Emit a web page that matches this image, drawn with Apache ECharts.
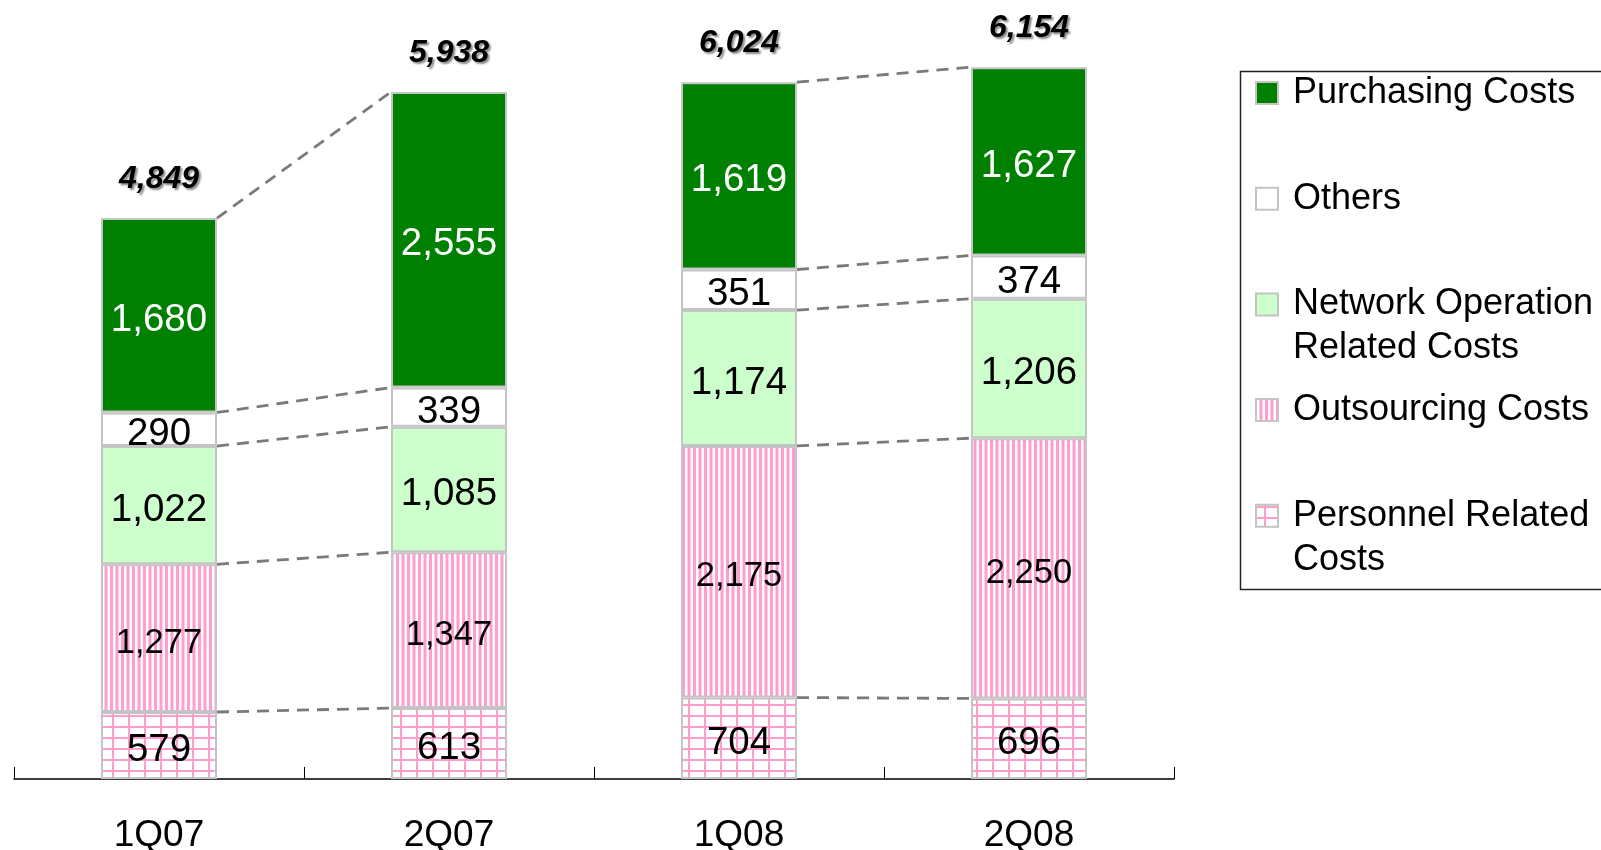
<!DOCTYPE html>
<html>
<head>
<meta charset="utf-8">
<script src="https://cdn.jsdelivr.net/npm/echarts@6/dist/echarts.min.js"></script>
<style>
  html, body { margin: 0; padding: 0; background: #fff; }
  #chart { width: 1601px; height: 850px; }
</style>
</head>
<body>
<div id="chart"></div>
<script>
var quarters = ['1Q07', '2Q07', '1Q08', '2Q08'];
var personnel = [579, 613, 704, 696];
var outsourcing = [1277, 1347, 2175, 2250];
var network = [1022, 1085, 1174, 1206];
var others = [290, 339, 351, 374];
var purchasing = [1680, 2555, 1619, 1627];
var totals = [4849, 5938, 6024, 6154];
// dashed links only inside each fiscal year
var linkedPairs = [[0, 1], [2, 3]];

var FONT = 'Liberation Sans, Arial, sans-serif';
var PINK = '#FF9ECE';

// fill patterns
function makeCanvas(w, h, draw) {
  var c = document.createElement('canvas');
  c.width = w; c.height = h;
  var ctx = c.getContext('2d');
  ctx.fillStyle = '#fff';
  ctx.fillRect(0, 0, w, h);
  ctx.fillStyle = PINK;
  draw(ctx);
  return { image: c, repeat: 'repeat' };
}
var stripes = makeCanvas(11, 4, function (ctx) {
  ctx.fillRect(0, 0, 3, 4);
  ctx.fillRect(5.5, 0, 3, 4);
});
var gridFill = makeCanvas(16, 11, function (ctx) {
  ctx.fillRect(0, 0, 2, 11);
  ctx.fillRect(0, 0, 16, 2);
});

var stackDefs = [
  { name: 'Personnel Related Costs', data: personnel, color: gridFill, text: '#000', size: 38.5 },
  { name: 'Outsourcing Costs', data: outsourcing, color: stripes, text: '#000', size: 34.5 },
  { name: 'Network Operation Related Costs', data: network, color: '#CCFFCC', text: '#000', size: 38.5 },
  { name: 'Others', data: others, color: '#fff', text: '#000', size: 38.5 },
  { name: 'Purchasing Costs', data: purchasing, color: '#008000', text: '#fff', size: 38.5 }
];

var legendItems = [
  { label: 'Purchasing Costs', color: '#008000' },
  { label: 'Others', color: '#fff' },
  { label: 'Network Operation\nRelated Costs', color: '#CCFFCC' },
  { label: 'Outsourcing Costs', color: stripes },
  { label: 'Personnel Related\nCosts', color: gridFill }
];

// cumulative tops of each stack level
var levels = [];
var run = quarters.map(function () { return 0; });
stackDefs.forEach(function (s) {
  run = run.map(function (v, i) { return v + s.data[i]; });
  levels.push(run.slice());
});
var links = [];
linkedPairs.forEach(function (p) {
  levels.forEach(function (lv) {
    links.push([p[0], p[1], lv[p[0]], lv[p[1]]]);
  });
});

var series = stackDefs.map(function (s) {
  return {
    name: s.name,
    type: 'bar',
    stack: 'cost',
    barWidth: '40%',
    data: s.data,
    itemStyle: { color: s.color, borderColor: '#C4C4C4', borderWidth: 2 },
    label: {
      show: true,
      position: 'inside',
      offset: [0, 5],
      color: s.text,
      fontSize: s.size,
      fontFamily: FONT,
      formatter: function (p) { return p.value.toLocaleString('en-US'); }
    }
  };
});

series.push({
  type: 'custom',
  silent: true,
  data: links,
  encode: { x: 0, y: 2 },
  renderItem: function (params, api) {
    var a = api.coord([api.value(0), api.value(2)]);
    var b = api.coord([api.value(1), api.value(3)]);
    var half = api.size([1, 0])[0] * 0.4 / 2;
    return {
      type: 'line',
      shape: { x1: a[0] + half, y1: a[1], x2: b[0] - half, y2: b[1] },
      style: { stroke: '#7a7a7a', lineWidth: 2.8, lineDash: [12, 8] }
    };
  }
});

series.push({
  type: 'scatter',
  silent: true,
  data: totals,
  symbolSize: 1,
  itemStyle: { color: 'transparent', opacity: 1 },
  label: {
    show: true,
    position: 'top',
    distance: 22,
    color: '#000',
    fontSize: 32,
    fontWeight: 'bold',
    fontStyle: 'italic',
    fontFamily: FONT,
    textShadowColor: '#8a8a8a',
    textShadowOffsetX: 2,
    textShadowOffsetY: 2,
    textShadowBlur: 2,
    formatter: function (p) { return p.value.toLocaleString('en-US'); }
  }
});

// legend box drawn by hand (two-line names keep the icon on the first line)
var legendEls = [{
  type: 'rect',
  shape: { x: 1240.5, y: 71.5, width: 420, height: 518 },
  style: { fill: 'none', stroke: '#222', lineWidth: 1.5 }
}];
legendItems.forEach(function (it, k) {
  var cy = 93 + k * 105.7;
  legendEls.push({
    type: 'rect',
    shape: { x: 1256, y: cy - 11, width: 22, height: 22 },
    style: { fill: it.color, stroke: '#C4C4C4', lineWidth: 2 }
  });
  legendEls.push({
    type: 'text',
    x: 1293,
    y: cy - 22,
    style: { text: it.label, fill: '#000', font: '36px ' + FONT, lineHeight: 44, verticalAlign: 'top' }
  });
});

var myChart = echarts.init(document.getElementById('chart'));
myChart.setOption({
  animation: false,
  backgroundColor: '#fff',
  grid: { left: 14, right: 427, top: 27, bottom: 71, outerBoundsMode: 'none' },
  xAxis: {
    type: 'category',
    data: quarters,
    axisLine: { lineStyle: { color: '#000', width: 1.5 } },
    axisTick: { show: true, inside: true, length: 12, lineStyle: { color: '#000', width: 1 } },
    axisLabel: { color: '#000', fontSize: 37, fontFamily: FONT, margin: 38 }
  },
  yAxis: { type: 'value', min: 0, max: 6500, show: false, splitLine: { show: false } },
  series: series,
  graphic: legendEls
});
</script>
</body>
</html>
